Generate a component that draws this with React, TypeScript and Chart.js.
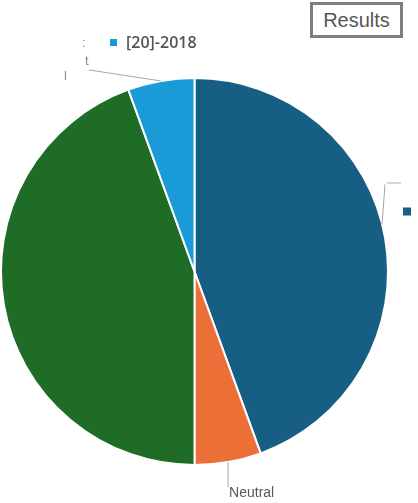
import React, { useEffect, useRef } from "react";
import { Chart, registerables } from "chart.js";

Chart.register(...registerables);

const categories = ["Positive", "Neutral", "Negative", "[20]-2018"];
const values = [8, 1, 8, 1];
const colors = ["#175e84", "#eb6f36", "#1e6c25", "#1a9ad6"];
const chartTitle = "Results";

const leaderPlugin = {
  id: "leaders",
  afterDraw(chart: any) {
    const ctx = chart.ctx;
    const arcs = chart.getDatasetMeta(0).data;
    const pt = (a: any, r: number) => {
      const mid = (a.startAngle + a.endAngle) / 2;
      return { x: a.x + Math.cos(mid) * r, y: a.y + Math.sin(mid) * r };
    };
    ctx.save();
    ctx.strokeStyle = "#a6a6a6";
    ctx.lineWidth = 1;
    // Neutral (orange)
    const o = arcs[1];
    const p1 = pt(o, o.outerRadius);
    ctx.beginPath();
    ctx.moveTo(p1.x, p1.y);
    ctx.lineTo(p1.x, p1.y + 25);
    ctx.stroke();
    ctx.fillStyle = "#595959";
    ctx.font = "14px 'Liberation Sans', Arial, sans-serif";
    ctx.textBaseline = "middle";
    ctx.textAlign = "left";
    ctx.fillText(categories[1], p1.x + 1, p1.y + 31);
    // light blue
    const lb = arcs[3];
    const p2 = pt(lb, lb.outerRadius);
    ctx.beginPath();
    ctx.moveTo(p2.x, p2.y);
    ctx.lineTo(p2.x - 72, p2.y - 11);
    ctx.stroke();
    ctx.fillStyle = "#8a8a8a";
    ctx.font = "13px 'Liberation Sans', Arial, sans-serif";
    ctx.fillText("t", p2.x - 76, p2.y - 20);
    ctx.fillText("l", p2.x - 97, p2.y - 5);
    ctx.fillText(":", p2.x - 79, p2.y - 38);
    // dark blue
    const db = arcs[0];
    const p3 = { x: db.x + db.outerRadius - 6, y: db.y - 47 };
    ctx.beginPath();
    ctx.moveTo(p3.x, p3.y);
    ctx.lineTo(p3.x + 3, p3.y - 40);
    ctx.stroke();
    ctx.fillStyle = "#b0b0b0";
    ctx.fillRect(p3.x + 5, p3.y - 42, 14, 1);
    ctx.fillStyle = colors[0];
    ctx.fillRect(p3.x + 21, p3.y - 17, 8, 8);
    ctx.restore();
  },
};

export default function App() {
  const ref = useRef<HTMLCanvasElement>(null);
  useEffect(() => {
    document.body.style.margin = "0";
    const chart = new Chart(ref.current!, {
      type: "pie",
      data: {
        labels: categories,
        datasets: [
          {
            data: values,
            backgroundColor: colors,
            borderColor: "#ffffff",
            borderWidth: 2,
          },
        ],
      },
      options: {
        animation: false,
        responsive: false,
        layout: { padding: { left: 0, right: 29, top: 77, bottom: 37 } },
        plugins: {
          legend: { display: false },
          tooltip: { enabled: false },
        },
      },
      plugins: [leaderPlugin],
    });
    return () => chart.destroy();
  }, []);
  return (
    <div style={{ position: "relative", width: 418, height: 503, background: "#fff" }}>
      <canvas ref={ref} width={418} height={503} style={{ position: "absolute", left: 0, top: 0 }} />
      <div
        style={{
          position: "absolute",
          left: 310,
          top: 2,
          width: 87,
          height: 30,
          border: "3px solid #7f7f7f",
          fontFamily: "'Liberation Sans', Arial, sans-serif",
          fontSize: 20,
          color: "#555",
          display: "flex",
          alignItems: "center",
          justifyContent: "center",
          background: "#fff",
        }}
      >
        {chartTitle}
      </div>
      <div
        style={{
          position: "absolute",
          left: 110,
          top: 31,
          display: "flex",
          alignItems: "center",
          fontFamily: "'Open Sans', sans-serif",
          fontWeight: 600,
          fontSize: 16,
          color: "#555",
        }}
      >
        <span style={{ width: 7, height: 7, background: colors[3], marginRight: 9, display: "inline-block" }} />
        {categories[3]}
      </div>
    </div>
  );
}
